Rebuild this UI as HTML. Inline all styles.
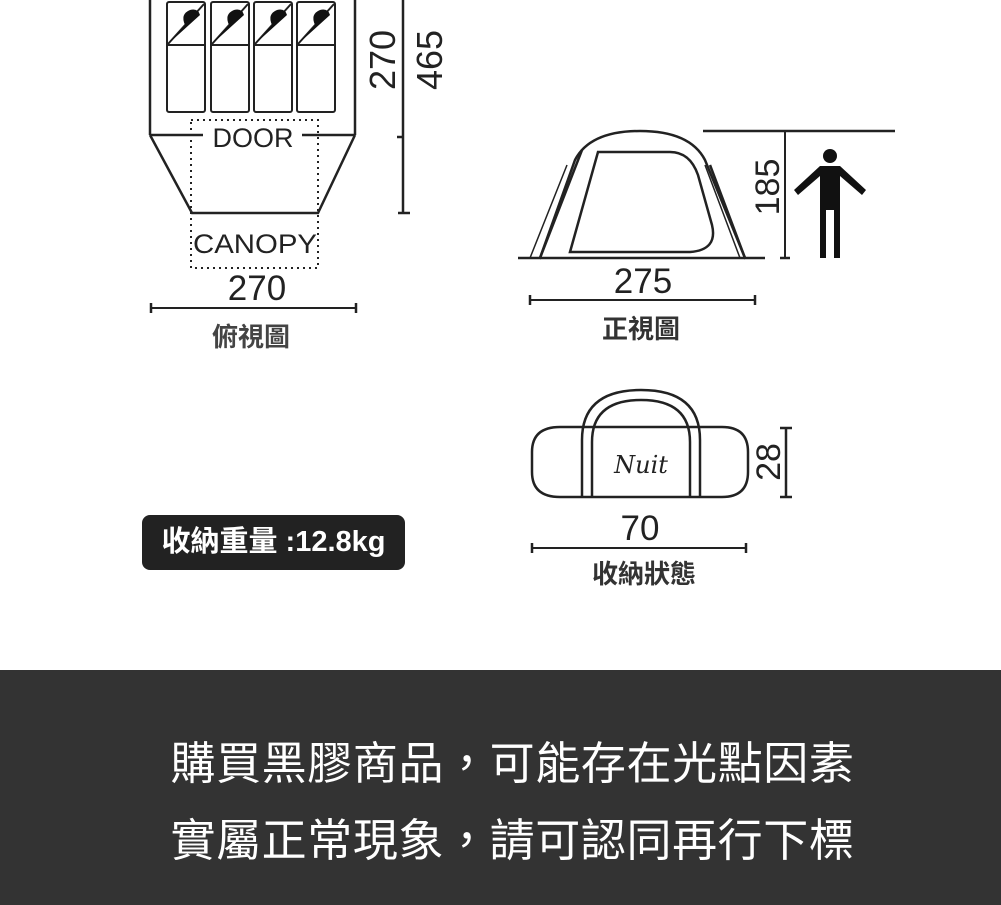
<!DOCTYPE html>
<html><head><meta charset="utf-8"><style>
html,body{margin:0;padding:0;background:#fff;width:1001px;height:905px;overflow:hidden}
svg{position:absolute;left:0;top:0}
.band{position:absolute;left:0;top:670px;width:1001px;height:235px;background:#333}
.band div{position:absolute;left:12px;width:1001px;text-align:center;color:#fff;font-family:"Liberation Sans","Noto Sans CJK TC",sans-serif;font-size:45px;letter-spacing:0.6px}
.badge{position:absolute;left:142px;top:515px;width:263px;height:55px;background:#222;border-radius:8px;color:#fff;font-family:"Liberation Sans","Noto Sans CJK TC",sans-serif;font-size:29px;line-height:55px;text-align:center;font-weight:bold}
</style></head><body>
<svg width="1001" height="905" font-family="Liberation Sans, Noto Sans CJK TC, sans-serif">
<g stroke="#222" stroke-width="2.5" fill="none">
<line x1="150" y1="0" x2="150" y2="135"/><line x1="355" y1="0" x2="355" y2="135"/>
<polyline points="150,135 192,213 318,213 355,135"/>
<line x1="150" y1="135" x2="203" y2="135"/><line x1="302" y1="135" x2="355" y2="135"/>
<g stroke-width="2">
<rect x="167" y="2" width="38" height="110" rx="2"/><rect x="211" y="2" width="38" height="110" rx="2"/>
<rect x="254" y="2" width="38" height="110" rx="2"/><rect x="297" y="2" width="38" height="110" rx="2"/>
<line x1="167" y1="45" x2="205" y2="45"/><line x1="211" y1="45" x2="249" y2="45"/>
<line x1="254" y1="45" x2="292" y2="45"/><line x1="297" y1="45" x2="335" y2="45"/>
<line x1="168" y1="44" x2="204" y2="4"/><line x1="212" y1="44" x2="248" y2="4"/>
<line x1="255" y1="44" x2="291" y2="4"/><line x1="298" y1="44" x2="334" y2="4"/>
</g>
<rect x="191" y="120" width="127" height="148" stroke-dasharray="2,4" stroke-width="2"/>
<line x1="151" y1="308" x2="356" y2="308" stroke-width="2"/>
<line x1="151" y1="303" x2="151" y2="313"/><line x1="356" y1="303" x2="356" y2="313"/>
<line x1="403" y1="0" x2="403" y2="213"/><line x1="397" y1="137" x2="403" y2="137"/><line x1="398" y1="213" x2="410" y2="213"/>
<path d="M518 258 H540 L575 160 Q590 131 640 131 Q690 131 705 160 L745 258 H765"/>
<path d="M530 258 L567 165 M740 258 L705 165" stroke-width="1.5"/>
<path d="M540 258 L582 150 M745 258 L710 165 M540 258 H745"/>
<path d="M570 252 L598 152 H670 Q690 152 698 175 L712 225 Q718 250 690 252 Z"/>
<line x1="703" y1="131" x2="895" y2="131"/>
<line x1="785" y1="131" x2="785" y2="258" stroke-width="2"/><line x1="780" y1="258" x2="790" y2="258"/>
<line x1="530" y1="300" x2="755" y2="300" stroke-width="2"/><line x1="530" y1="295" x2="530" y2="305"/><line x1="755" y1="295" x2="755" y2="305"/>
<path d="M582 427 H560 Q532 427 532 452 V472 Q532 497 560 497 H582"/>
<path d="M700 427 H722 Q748 427 748 452 V472 Q748 497 722 497 H700"/>
<line x1="582" y1="427" x2="700" y2="427"/><line x1="582" y1="497" x2="700" y2="497"/>
<path d="M582 497 V440 Q582 390 641 390 Q700 390 700 440 V497"/>
<path d="M592 497 V442 Q592 400 641 400 Q690 400 690 442 V497"/>
<line x1="786" y1="428" x2="786" y2="497"/><line x1="780" y1="428" x2="792" y2="428"/><line x1="780" y1="497" x2="792" y2="497"/>
<line x1="532" y1="548" x2="746" y2="548" stroke-width="2"/><line x1="532" y1="543" x2="532" y2="553"/><line x1="746" y1="543" x2="746" y2="553"/>
</g>
<g fill="#111">
<path d="M168 44 L185 25 Q180 14 190 10 Q198 8 200 15 L168 44Z"/>
<path d="M212 44 L229 25 Q224 14 234 10 Q242 8 244 15 Z"/>
<path d="M255 44 L272 25 Q267 14 277 10 Q285 8 287 15 Z"/>
<path d="M298 44 L315 25 Q310 14 320 10 Q328 8 330 15 Z"/>
<circle cx="830" cy="156" r="7"/>
<path d="M820 166 H840 L866 190 L862 195 L840 176 V258 H834 V210 H826 V258 H820 V176 L798 195 L794 190 Z"/>
</g>
<g fill="#222" text-anchor="middle">
<text x="253" y="147" font-size="27" textLength="81" lengthAdjust="spacingAndGlyphs">DOOR</text>
<text x="255" y="253" font-size="27" textLength="124" lengthAdjust="spacingAndGlyphs">CANOPY</text>
<text x="257" y="300" font-size="35">270</text>
<text x="251" y="346" font-size="26" font-weight="bold" fill="#444">俯視圖</text>
<text transform="translate(395,60) rotate(-90)" font-size="36">270</text>
<text transform="translate(442,60) rotate(-90)" font-size="36">465</text>
<text x="643" y="293" font-size="35">275</text>
<text x="641" y="338" font-size="26" font-weight="bold" fill="#333">正視圖</text>
<text transform="translate(779,187) rotate(-90)" font-size="34">185</text>
<text x="641" y="473" font-size="24" font-style="italic" font-family="DejaVu Serif, serif">Nuit</text>
<text transform="translate(780,462) rotate(-90)" font-size="34">28</text>
<text x="640" y="540" font-size="35">70</text>
<text x="644" y="583" font-size="26" font-weight="bold" fill="#333">收納狀態</text>
</g>
</svg>
<div class="badge">收納重量 :12.8kg</div>
<div class="band">
<div style="top:57px">購買黑膠商品，可能存在光點因素</div>
<div style="top:134px">實屬正常現象，請可認同再行下標</div>
</div>
</body></html>
